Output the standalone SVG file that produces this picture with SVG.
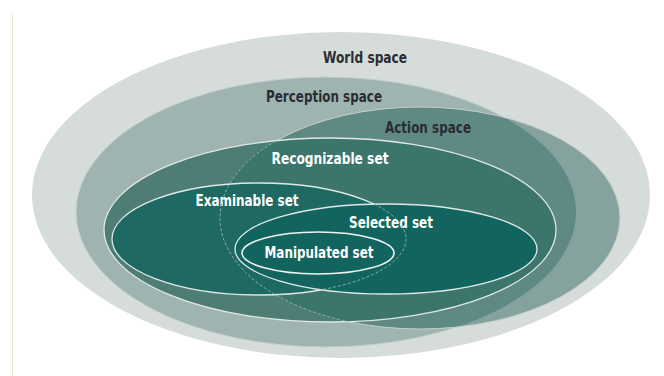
<svg xmlns="http://www.w3.org/2000/svg" width="664" height="376" viewBox="0 0 664 376">
<style>
.lbl{font-family:"Liberation Sans Narrow","DejaVu Sans Condensed","Liberation Sans",sans-serif;font-weight:bold;font-size:15px;text-anchor:middle}
.dark{fill:#2b2b33}
.light{fill:#ffffff}
.edge{fill:none;stroke:#dfe8e6;stroke-width:1.3}
.dash{fill:none;stroke:#8fb0aa;stroke-width:1;stroke-dasharray:3 2}
</style>
<defs>
<ellipse id="eWorld" cx="341" cy="195" rx="309" ry="163"/>
<ellipse id="ePer" cx="326" cy="212" rx="250" ry="135"/>
<ellipse id="eAct" cx="420" cy="218" rx="200" ry="111"/>
<ellipse id="eRec" cx="330" cy="230" rx="226" ry="92"/>
<ellipse id="eExa" cx="259" cy="239" rx="147" ry="56"/>
<ellipse id="eSel" cx="386" cy="249" rx="151" ry="45"/>
<ellipse id="eMan" cx="318" cy="253" rx="76" ry="21"/>
<clipPath id="cPer"><use href="#ePer"/></clipPath>
<clipPath id="cAct"><use href="#eAct"/></clipPath>
<clipPath id="cRec"><use href="#eRec"/></clipPath>
<clipPath id="cSel"><use href="#eSel"/></clipPath>
</defs>
<line x1="12.5" y1="13" x2="12.5" y2="376" stroke="#eee6d5" stroke-width="1"/>
<g id="world-space">
<use href="#eWorld" fill="#d5dcd9"/>
<text class="lbl dark" x="365" y="62.5" textLength="84" lengthAdjust="spacingAndGlyphs">World space</text>
</g>
<g id="perception-space">
<use href="#ePer" fill="#9fb4b0"/>
<use href="#ePer" fill="none" stroke="#c3d0cd" stroke-width="1"/>
<text class="lbl dark" x="324" y="101.5" textLength="116" lengthAdjust="spacingAndGlyphs">Perception space</text>
</g>
<g id="action-space">
<use href="#eAct" fill="#86a29e"/>
<use href="#eAct" fill="#5f8983" clip-path="url(#cPer)"/>
<use href="#eAct" fill="none" stroke="#c3d0cd" stroke-width="1"/>
<text class="lbl dark" x="428" y="132.5" textLength="86" lengthAdjust="spacingAndGlyphs">Action space</text>
</g>
<g id="recognizable-set">
<use href="#eRec" fill="#4e7d76"/>
<use href="#eRec" fill="#3b756c" clip-path="url(#cAct)"/>
<use href="#eRec" class="edge"/>
<text class="lbl light" x="330" y="163.5" textLength="117" lengthAdjust="spacingAndGlyphs">Recognizable set</text>
</g>
<g id="examinable-set">
<use href="#eExa" fill="#1e6a62"/>
<use href="#eExa" class="edge"/>
<text class="lbl light" x="247" y="205.5" textLength="103" lengthAdjust="spacingAndGlyphs">Examinable set</text>
</g>
<g id="selected-set">
<use href="#eSel" fill="#12655e"/>
<use href="#eSel" class="edge"/>
<text class="lbl light" x="391" y="227.5" textLength="84" lengthAdjust="spacingAndGlyphs">Selected set</text>
</g>
<g id="connectors">
<use href="#eAct" class="dash" clip-path="url(#cRec)"/>
<use href="#eExa" class="dash" clip-path="url(#cSel)"/>
</g>
<g id="manipulated-set">
<use href="#eMan" fill="#12655e" stroke="#eef2f1" stroke-width="1.6"/>
<text class="lbl light" x="319" y="257.5" textLength="109" lengthAdjust="spacingAndGlyphs">Manipulated set</text>
</g>
</svg>
